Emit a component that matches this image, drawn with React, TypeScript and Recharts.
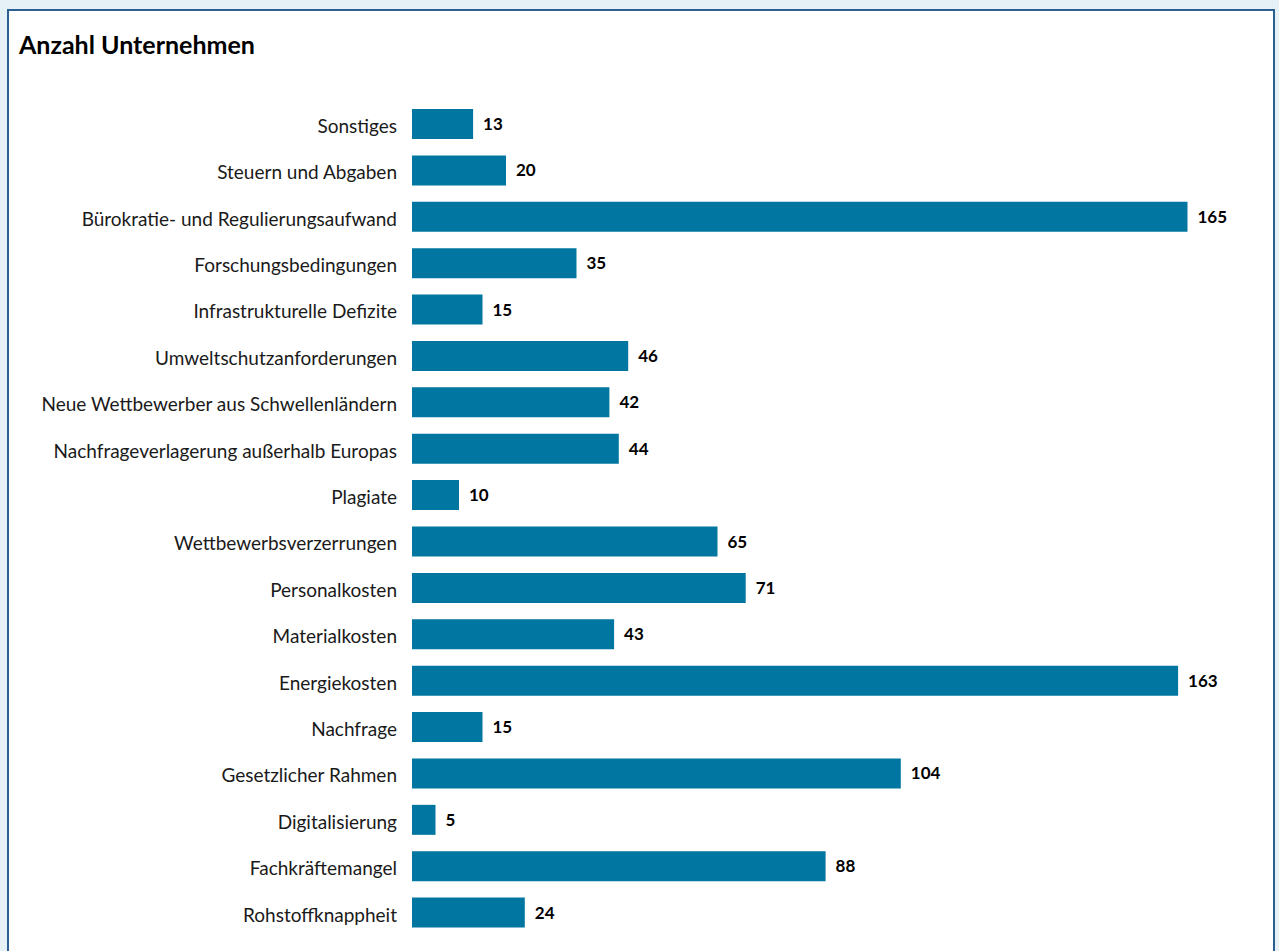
import { BarChart, Bar, XAxis, YAxis, LabelList } from 'recharts';

const categories = [
  'Sonstiges',
  'Steuern und Abgaben',
  'Bürokratie- und Regulierungsaufwand',
  'Forschungsbedingungen',
  'Infrastrukturelle Defizite',
  'Umweltschutzanforderungen',
  'Neue Wettbewerber aus Schwellenländern',
  'Nachfrageverlagerung außerhalb Europas',
  'Plagiate',
  'Wettbewerbsverzerrungen',
  'Personalkosten',
  'Materialkosten',
  'Energiekosten',
  'Nachfrage',
  'Gesetzlicher Rahmen',
  'Digitalisierung',
  'Fachkräftemangel',
  'Rohstoffknappheit',
];

const counts = [13, 20, 165, 35, 15, 46, 42, 44, 10, 65, 71, 43, 163, 15, 104, 5, 88, 24];

const data = categories.map((name, i) => ({ name, value: counts[i] }));

const FONT = 'Lato, "Noto Sans", sans-serif';

export default function App() {
  return (
    <div
      style={{
        position: 'fixed',
        left: 0,
        top: 0,
        width: 1279,
        height: 951,
        background: '#e5f0f7',
        overflow: 'hidden',
        fontFamily: FONT,
      }}
    >
      <div
        style={{
          position: 'absolute',
          left: 7,
          top: 9,
          width: 1264,
          height: 960,
          background: '#ffffff',
          border: '2px solid #2c5f92',
        }}
      />
      <div
        style={{
          position: 'absolute',
          left: 19,
          top: 29,
          fontSize: 25,
          fontWeight: 700,
          color: '#000',
        }}
      >
        Anzahl Unternehmen
      </div>
      <div style={{ position: 'absolute', left: 0, top: 0 }}>
        <BarChart
          width={1279}
          height={951}
          data={data}
          layout="vertical"
          margin={{ top: 101, right: 68, bottom: 15, left: 0 }}
          barCategoryGap={16}
        >
          <XAxis type="number" domain={[0, 170]} hide />
          <YAxis
            type="category"
            dataKey="name"
            width={412}
            axisLine={false}
            tickLine={false}
            tickMargin={9}
            interval={0}
            tick={{ fill: '#1a1a1a', fontSize: 19, fontFamily: FONT, dy: 2 }}
          />
          <Bar dataKey="value" fill="#0076a0" barSize={30} isAnimationActive={false}>
            <LabelList
              dataKey="value"
              position="right"
              offset={10}
              style={{ fill: '#000', fontSize: 17, fontWeight: 700, fontFamily: FONT }}
            />
          </Bar>
        </BarChart>
      </div>
    </div>
  );
}
